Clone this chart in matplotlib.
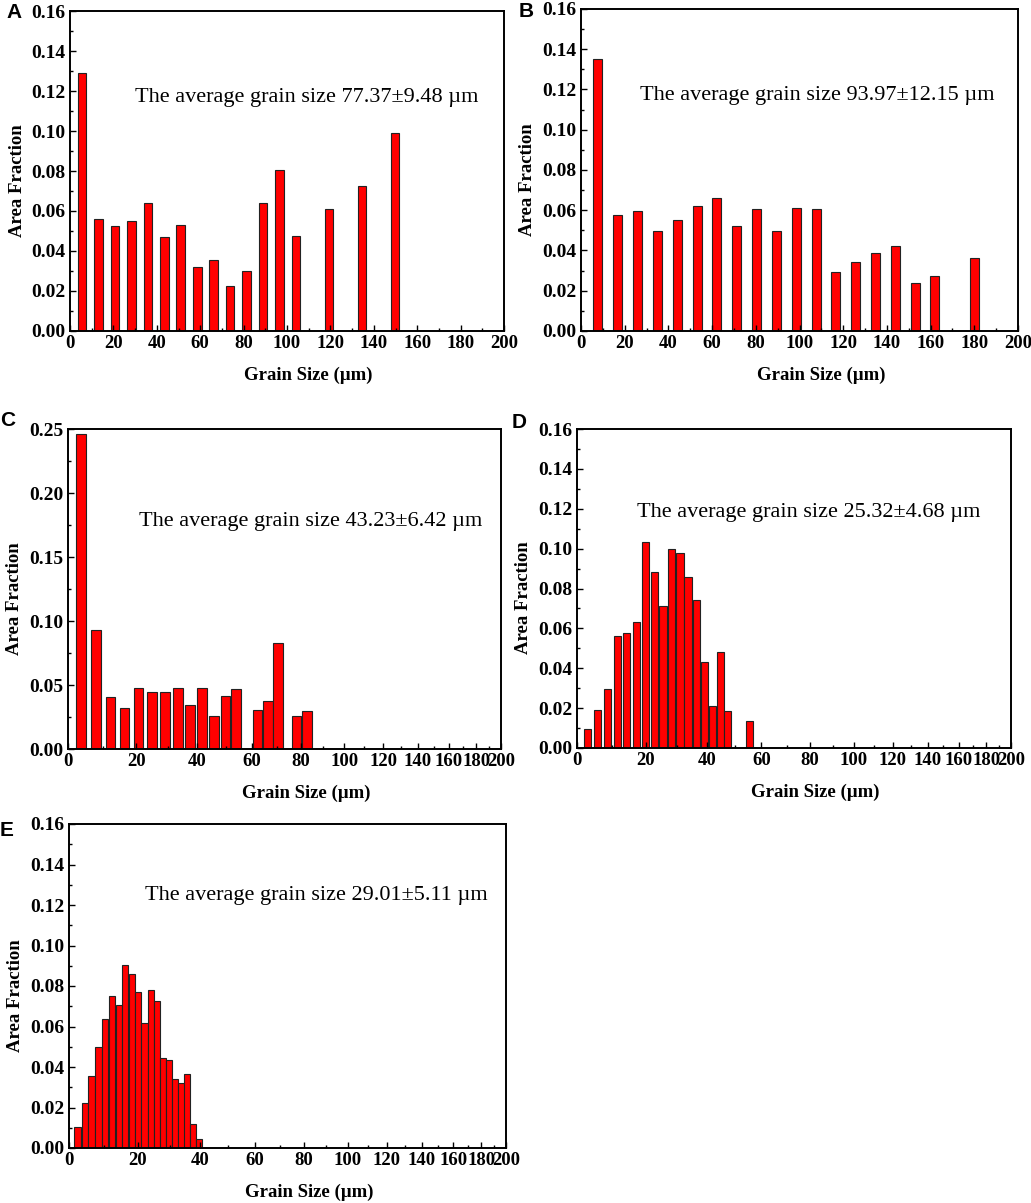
import matplotlib
matplotlib.use('Agg')
import matplotlib.pyplot as plt
import numpy as np
from matplotlib.ticker import MultipleLocator, FormatStrFormatter

# ---- data ----
a_size = [5.5, 13.0, 20.7, 28.2, 35.9, 43.4, 51.0, 58.6, 66.2, 73.8, 81.4, 88.9, 96.5, 104.1, 119.4, 134.5, 149.7]
a_frac = [0.129, 0.056, 0.0527, 0.055, 0.0642, 0.0472, 0.0528, 0.0318, 0.0357, 0.0223, 0.0298, 0.0642, 0.0803,
          0.0475, 0.0608, 0.0723, 0.0992]

b_size = [7.6, 16.8, 25.8, 35.0, 44.0, 53.1, 62.1, 71.3, 80.3, 89.5, 98.5, 107.6, 116.6, 125.8, 134.8, 144.0,
          153.0, 162.0, 180.2]
b_frac = [0.1351, 0.0574, 0.0594, 0.0497, 0.0552, 0.0623, 0.0662, 0.0521, 0.0604, 0.0499, 0.0609, 0.0605, 0.0295,
          0.0342, 0.0388, 0.0421, 0.0240, 0.0274, 0.0363]

c_size = [3.7, 7.9, 12.2, 16.4, 20.7, 24.9, 29.1, 33.4, 37.5, 41.6, 45.8, 50.0, 53.9, 62.2, 66.3, 70.4, 78.2, 82.8]
c_frac = [0.2458, 0.0926, 0.0406, 0.0317, 0.0476, 0.0445, 0.0445, 0.0479, 0.0343, 0.0476, 0.0260, 0.0414, 0.0468,
          0.0304, 0.0372, 0.0827, 0.0255, 0.0299]

d_size = [3.0, 5.8, 8.7, 11.5, 14.3, 17.2, 19.9, 22.7, 25.5, 28.3, 31.0, 33.6, 36.4, 39.2, 41.9, 44.8, 47.4, 55.5]
d_frac = [0.0094, 0.019, 0.0297, 0.056, 0.0576, 0.0631, 0.1034, 0.0884, 0.0713, 0.0997, 0.098, 0.0857, 0.0743,
          0.0431, 0.0211, 0.0479, 0.0184, 0.0134]

e_size = [2.4, 4.4, 6.3, 8.3, 10.2, 12.2, 14.2, 16.1, 18.1, 20.0, 22.0, 24.0, 25.9, 27.9, 29.8, 31.8, 33.8, 35.7,
          37.7, 39.7]
e_frac = [0.0106, 0.0223, 0.0358, 0.0498, 0.0638, 0.0750, 0.0704, 0.0903, 0.0859, 0.0768, 0.0616, 0.0779, 0.0725,
          0.0443, 0.0433, 0.0339, 0.0320, 0.0364, 0.0119, 0.0046]

notes = ['The average grain size 77.37\u00b19.48 \u00b5m',
         'The average grain size 93.97\u00b112.15 \u00b5m',
         'The average grain size 43.23\u00b16.42 \u00b5m',
         'The average grain size 25.32\u00b14.68 \u00b5m',
         'The average grain size 29.01\u00b15.11 \u00b5m']

W, H = 1031, 1203
K = 0.00566  # the C/D/E x axes are compressed towards 200


def fwd(x):
    return 1 - np.exp(-K * np.asarray(x, dtype=float))


def inv(y):
    y = np.clip(np.asarray(y, dtype=float), -1, 0.999999)
    return -np.log(1 - y) / K


plt.rcParams['font.family'] = 'Liberation Serif'

fig = plt.figure(figsize=(W / 100, H / 100), dpi=100)


def make_axes(l, t, r, b):
    return fig.add_axes([l / W, 1 - b / H, (r - l) / W, (b - t) / H])


def panel(box, letter, lxy, sizes, fracs, note, nxy, ymax, ystep, warped, bar_w):
    ax = make_axes(*box)
    ax_px = box[2] - box[0]
    ax_py = box[3] - box[1]
    if warped:
        # bars keep the same pixel width on the squeezed axis
        ax.set_xscale('function', functions=(fwd, inv))
        half = bar_w / 2 / ax_px * fwd(200)
        left = inv(fwd(sizes) - half)
        right = inv(fwd(sizes) + half)
        ax.bar(left, fracs, width=right - left, align='edge', color='#ff0000',
               edgecolor='#222222', linewidth=0.8)
    else:
        ax.bar(sizes, fracs, width=bar_w, color='#ff0000', edgecolor='#222222', linewidth=0.8)
    ax.set_xlim(0, 200)
    ax.set_ylim(0, ymax)
    ax.xaxis.set_major_locator(MultipleLocator(20))
    ax.xaxis.set_minor_locator(MultipleLocator(10))
    ax.yaxis.set_major_locator(MultipleLocator(ystep))
    ax.yaxis.set_minor_locator(MultipleLocator(ystep / 2))
    ax.xaxis.set_major_formatter(FormatStrFormatter('%d'))
    ax.yaxis.set_major_formatter(FormatStrFormatter('%.2f'))
    ax.tick_params(which='both', direction='in', top=False, right=False, width=1.0)
    ax.tick_params(which='major', length=4, pad=3)
    ax.tick_params(axis='y', which='major', labelsize=14)
    ax.tick_params(axis='x', which='major', labelsize=13.5)
    ax.tick_params(which='minor', length=2)
    for lab in ax.get_xticklabels() + ax.get_yticklabels():
        lab.set_fontweight('bold')
    for sp in ax.spines.values():
        sp.set_linewidth(1.4)

    ax.set_xlabel('Grain Size (\u00b5m)', fontsize=13.5, fontweight='bold')
    ax.set_ylabel('Area Fraction', fontsize=13.5, fontweight='bold')
    ax.xaxis.label.set_va('center')
    ax.yaxis.label.set_va('center')
    ax.xaxis.set_label_coords(0.55, -44 / ax_py)
    ax.yaxis.set_label_coords(-53 / ax_px, 0.47)

    ax.text(nxy[0], nxy[1], note, transform=ax.transAxes, fontsize=16, va='center', ha='left')
    fig.text(lxy[0] / W, 1 - lxy[1] / H, letter, family='Liberation Sans', fontweight='bold',
             fontsize=15, va='top', ha='left')
    return ax


panel((70, 11, 504, 331), 'A', (6, 3), a_size, a_frac, notes[0], (0.150, 0.731), 0.16, 0.02, False, 4.0)
panel((581, 9, 1018, 331), 'B', (519, 2), b_size, b_frac, notes[1], (0.135, 0.731), 0.16, 0.02, False, 4.1)
panel((68, 429, 501, 749), 'C', (0, 411), c_size, c_frac, notes[2], (0.164, 0.712), 0.25, 0.05, True, 9.5)
panel((577, 429, 1011, 748), 'D', (512, 413), d_size, d_frac, notes[3], (0.138, 0.737), 0.16, 0.02, True, 7.3)
panel((69, 824, 506, 1148), 'E', (0, 821), e_size, e_frac, notes[4], (0.174, 0.778), 0.16, 0.02, True, 6.5)

fig.savefig('out.png', dpi=100)
